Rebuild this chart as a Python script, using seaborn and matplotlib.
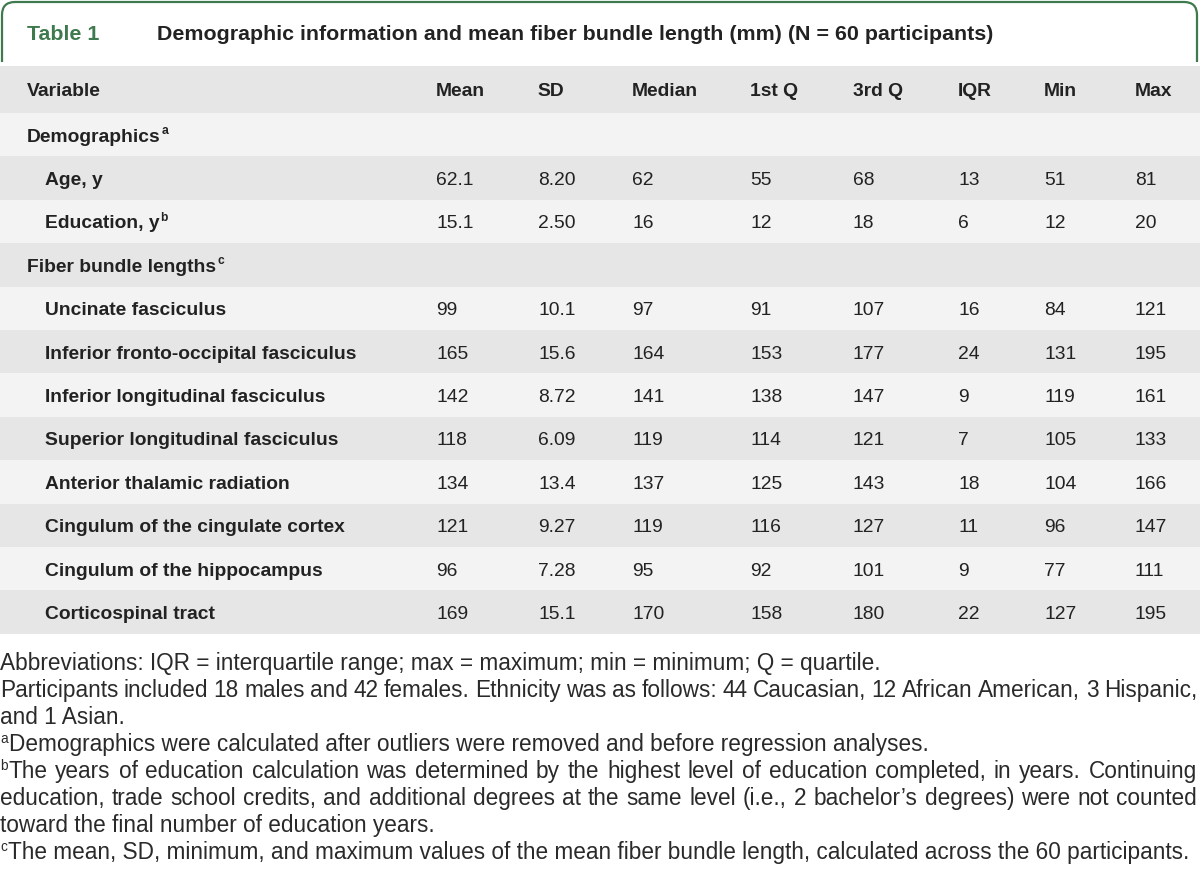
import matplotlib
matplotlib.use("Agg")
import matplotlib.pyplot as plt
from matplotlib.patches import Rectangle, FancyBboxPatch
import seaborn as sns

sns.set_theme(style="white")
plt.rcParams['font.family'] = ['Liberation Sans', 'DejaVu Sans']

# ---------------- data ----------------
title_label = "Table 1"
title_text = "Demographic information and mean fiber bundle length (mm) (N = 60 participants)"
columns = ["Variable", "Mean", "SD", "Median", "1st Q", "3rd Q", "IQR", "Min", "Max"]

group_demo = "Demographics"
demo_vars = ["Age, y", "Education, y"]
demo_sup = ["", "b"]
demo_mean = ["62.1", "15.1"]
demo_sd = ["8.20", "2.50"]
demo_median = ["62", "16"]
demo_q1 = ["55", "12"]
demo_q3 = ["68", "18"]
demo_iqr = ["13", "6"]
demo_min = ["51", "12"]
demo_max = ["81", "20"]

group_fiber = "Fiber bundle lengths"
fiber_vars = ["Uncinate fasciculus", "Inferior fronto-occipital fasciculus",
              "Inferior longitudinal fasciculus", "Superior longitudinal fasciculus",
              "Anterior thalamic radiation", "Cingulum of the cingulate cortex",
              "Cingulum of the hippocampus", "Corticospinal tract"]
fiber_mean = ["99", "165", "142", "118", "134", "121", "96", "169"]
fiber_sd = ["10.1", "15.6", "8.72", "6.09", "13.4", "9.27", "7.28", "15.1"]
fiber_median = ["97", "164", "141", "119", "137", "119", "95", "170"]
fiber_q1 = ["91", "153", "138", "114", "125", "116", "92", "158"]
fiber_q3 = ["107", "177", "147", "121", "143", "127", "101", "180"]
fiber_iqr = ["16", "24", "9", "7", "18", "11", "9", "22"]
fiber_min = ["84", "131", "119", "105", "104", "96", "77", "127"]
fiber_max = ["121", "195", "161", "133", "166", "147", "111", "195"]

footnotes = [
    ("", "Abbreviations: IQR = interquartile range; max = maximum; min = minimum; Q = quartile.", False),
    ("", "Participants included 18 males and 42 females. Ethnicity was as follows: 44 Caucasian, 12 African American, 3 Hispanic,", True),
    ("", "and 1 Asian.", False),
    ("a", "Demographics were calculated after outliers were removed and before regression analyses.", False),
    ("b", "The years of education calculation was determined by the highest level of education completed, in years. Continuing", True),
    ("", "education, trade school credits, and additional degrees at the same level (i.e., 2 bachelor\u2019s degrees) were not counted", True),
    ("", "toward the final number of education years.", False),
    ("c", "The mean, SD, minimum, and maximum values of the mean fiber bundle length, calculated across the 60 participants.", False),
]

# ---------------- layout / style ----------------
W, H = 1200, 883
green = "#3f7a4f"
txt = "#222222"
fn_col = "#2a2a2a"
dark_bg = "#e6e6e6"
light_bg = "#f3f3f3"
col_x = [27, 436, 538, 632, 750, 853, 958, 1044, 1135]
indent = 45
header_top, header_bot = 66, 113
row_h = 43.4
fs = 13.9
fs_title = 15.4
fs_fn = 16.3

fig = plt.figure(figsize=(W / 100, H / 100), dpi=100)
ax = fig.add_axes([0, 0, 1, 1])
ax.set_xlim(0, W)
ax.set_ylim(H, 0)
ax.axis("off")
fig.canvas.draw()
renderer = fig.canvas.get_renderer()


def width_of(t):
    bb = t.get_window_extent(renderer=renderer)
    return bb.width


def half_cap(size):
    return size * 100 / 72 * 0.716 / 2


def put(x, yc, s, sup="", bold=False, color=txt, size=fs):
    w = "bold" if bold else "normal"
    yb = yc + half_cap(size)
    t = ax.text(x, yb, s, fontsize=size, fontweight=w, color=color, va="baseline", ha="left")
    if sup:
        ax.text(x + width_of(t) + 1, yb - 7.5, sup, fontsize=size * 0.62, color=color,
                va="baseline", ha="left", fontweight=w)
    return t


# green title frame (open at bottom)
frame = FancyBboxPatch((2, 2), W - 5, 120, boxstyle="round,pad=0,rounding_size=13",
                       fill=False, edgecolor=green, linewidth=1.6)
ax.add_patch(frame)
clip = Rectangle((0, 0), W, 62, transform=ax.transData)
frame.set_clip_path(clip)

put(col_x[0], 32, title_label, bold=True, color=green, size=fs_title)
put(157, 32, title_text, bold=True, size=fs_title)

# header
ax.add_patch(Rectangle((0, header_top), W, header_bot - header_top, color=dark_bg, lw=0))
for x, c in zip(col_x, columns):
    put(x, (header_top + header_bot) / 2, c, bold=True)

# body rows
rows = [(group_demo, "a", None, True)]
for i, v in enumerate(demo_vars):
    rows.append((v, demo_sup[i], [demo_mean[i], demo_sd[i], demo_median[i], demo_q1[i],
                                  demo_q3[i], demo_iqr[i], demo_min[i], demo_max[i]], False))
rows.append((group_fiber, "c", None, True))
for i, v in enumerate(fiber_vars):
    rows.append((v, "", [fiber_mean[i], fiber_sd[i], fiber_median[i], fiber_q1[i],
                         fiber_q3[i], fiber_iqr[i], fiber_min[i], fiber_max[i]], False))

for i, (name, sup, vals, is_group) in enumerate(rows):
    top = header_bot + i * row_h
    ax.add_patch(Rectangle((0, top), W, row_h, color=(light_bg if i % 2 == 0 else dark_bg), lw=0))
    yc = top + row_h / 2
    put(col_x[0] if is_group else indent, yc, name, sup=sup, bold=True)
    if vals:
        for x, v in zip(col_x[1:], vals):
            put(x, yc, v)

# footnotes
fn_y0, fn_dy = 662, 27
right_edge = 1197
for k, (mark, line, justify) in enumerate(footnotes):
    yb = fn_y0 + k * fn_dy + half_cap(fs_fn)
    x = 0
    if mark:
        t0 = ax.text(x, yb - 8, mark, fontsize=fs_fn * 0.6, color=fn_col, va="baseline", ha="left")
        x += width_of(t0) + 1
    if not justify:
        ax.text(x, yb, line, fontsize=fs_fn, color=fn_col, va="baseline", ha="left")
    else:
        words = line.split(" ")
        objs = [ax.text(0, yb, w_, fontsize=fs_fn, color=fn_col, va="baseline", ha="left") for w_ in words]
        widths = [width_of(o) for o in objs]
        gap = (right_edge - x - sum(widths)) / (len(words) - 1)
        cx = x
        for o, wd in zip(objs, widths):
            o.set_x(cx)
            cx += wd + gap

fig.savefig("out.png", dpi=100, facecolor="white")
